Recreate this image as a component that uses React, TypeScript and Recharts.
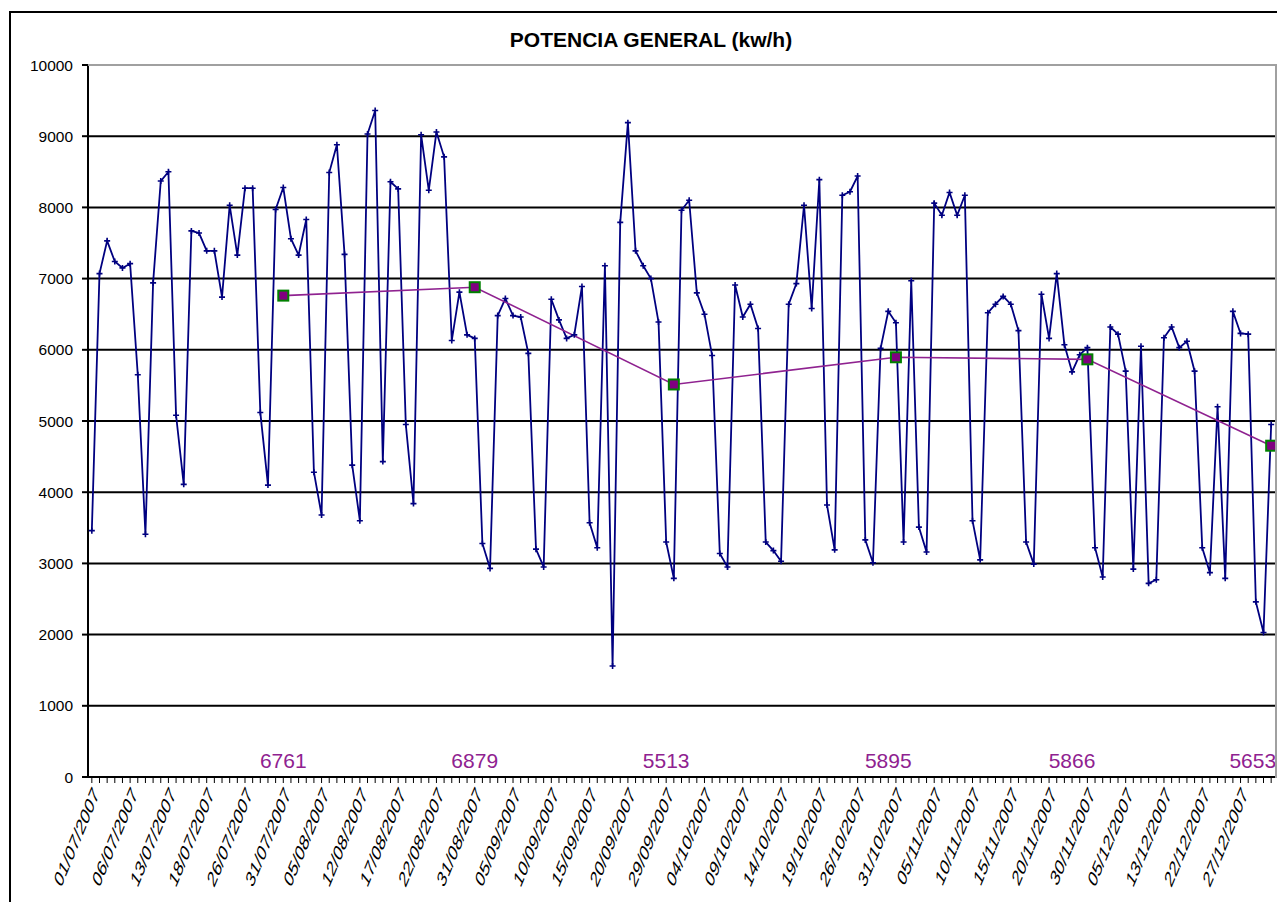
import React from 'react'
import { LineChart, Line, XAxis, YAxis, CartesianGrid, LabelList } from 'recharts'

// dias con lectura (no todos los dias del semestre)
const fechas = [
  '01/07/2007', '02/07/2007', '03/07/2007', '04/07/2007', '05/07/2007',
  '06/07/2007', '07/07/2007', '08/07/2007', '10/07/2007', '12/07/2007',
  '13/07/2007', '14/07/2007', '15/07/2007', '16/07/2007', '17/07/2007',
  '18/07/2007', '19/07/2007', '20/07/2007', '23/07/2007', '24/07/2007',
  '26/07/2007', '27/07/2007', '28/07/2007', '29/07/2007', '30/07/2007',
  '31/07/2007', '01/08/2007', '02/08/2007', '03/08/2007', '04/08/2007',
  '05/08/2007', '06/08/2007', '08/08/2007', '09/08/2007', '11/08/2007',
  '12/08/2007', '13/08/2007', '14/08/2007', '15/08/2007', '16/08/2007',
  '17/08/2007', '18/08/2007', '19/08/2007', '20/08/2007', '21/08/2007',
  '22/08/2007', '23/08/2007', '24/08/2007', '28/08/2007', '30/08/2007',
  '31/08/2007', '01/09/2007', '02/09/2007', '03/09/2007', '04/09/2007',
  '05/09/2007', '06/09/2007', '07/09/2007', '08/09/2007', '09/09/2007',
  '10/09/2007', '11/09/2007', '12/09/2007', '13/09/2007', '14/09/2007',
  '15/09/2007', '16/09/2007', '17/09/2007', '18/09/2007', '19/09/2007',
  '20/09/2007', '21/09/2007', '24/09/2007', '26/09/2007', '28/09/2007',
  '29/09/2007', '30/09/2007', '01/10/2007', '02/10/2007', '03/10/2007',
  '04/10/2007', '05/10/2007', '06/10/2007', '07/10/2007', '08/10/2007',
  '09/10/2007', '10/10/2007', '11/10/2007', '12/10/2007', '13/10/2007',
  '14/10/2007', '15/10/2007', '16/10/2007', '17/10/2007', '18/10/2007',
  '19/10/2007', '20/10/2007', '21/10/2007', '22/10/2007', '24/10/2007',
  '26/10/2007', '27/10/2007', '28/10/2007', '29/10/2007', '30/10/2007',
  '31/10/2007', '01/11/2007', '02/11/2007', '03/11/2007', '04/11/2007',
  '05/11/2007', '06/11/2007', '07/11/2007', '08/11/2007', '09/11/2007',
  '10/11/2007', '11/11/2007', '12/11/2007', '13/11/2007', '14/11/2007',
  '15/11/2007', '16/11/2007', '17/11/2007', '18/11/2007', '19/11/2007',
  '20/11/2007', '21/11/2007', '23/11/2007', '27/11/2007', '29/11/2007',
  '30/11/2007', '01/12/2007', '02/12/2007', '03/12/2007', '04/12/2007',
  '05/12/2007', '06/12/2007', '07/12/2007', '08/12/2007', '09/12/2007',
  '13/12/2007', '17/12/2007', '18/12/2007', '19/12/2007', '20/12/2007',
  '22/12/2007', '23/12/2007', '24/12/2007', '25/12/2007', '26/12/2007',
  '27/12/2007', '28/12/2007', '29/12/2007', '30/12/2007', '31/12/2007',
]

// potencia diaria (kw/h)
const potencia = [
  3460, 7070, 7530, 7240, 7150, 7210, 5650, 3410, 6940, 8370,
  8500, 5080, 4110, 7670, 7640, 7390, 7390, 6740, 8030, 7330,
  8270, 8270, 5120, 4100, 7970, 8280, 7560, 7330, 7830, 4280,
  3680, 8490, 8880, 7340, 4380, 3600, 9030, 9360, 4430, 8360,
  8260, 4950, 3840, 9020, 8240, 9060, 8710, 6130, 6810, 6210,
  6160, 3280, 2930, 6480, 6720, 6480, 6460, 5950, 3200, 2950,
  6710, 6420, 6160, 6210, 6890, 3570, 3220, 7180, 1560, 7790,
  9190, 7390, 7180, 7000, 6390, 3300, 2790, 7960, 8100, 6800,
  6500, 5920, 3140, 2950, 6910, 6460, 6640, 6300, 3300, 3180,
  3030, 6640, 6930, 8030, 6580, 8390, 3820, 3190, 8170, 8220,
  8440, 3330, 3010, 6020, 6540, 6380, 3300, 6970, 3510, 3160,
  8060, 7890, 8210, 7890, 8170, 3600, 3050, 6520, 6640, 6750,
  6640, 6270, 3300, 2990, 6780, 6160, 7070, 6070, 5690, 5930,
  6030, 3220, 2810, 6320, 6220, 5700, 2920, 6050, 2720, 2770,
  6170, 6320, 6030, 6120, 5700, 3220, 2870, 5200, 2790, 6540,
  6230, 6220, 2460, 2030, 4950,
]

// media mensual, marcada el ultimo dia de cada mes
const mediaFechas = ['31/07/2007', '31/08/2007', '30/09/2007', '31/10/2007', '30/11/2007', '31/12/2007']
const mediaValores = [6761, 6879, 5513, 5895, 5866, 4653]

// rotulos de la media sobre el eje
const rotuloFechas = ['31/07/2007', '31/08/2007', '29/09/2007', '30/10/2007', '27/11/2007', '31/12/2007']
const rotuloTextos = ['6761', '6879', '5513', '5895', '5866', '5653']

const yTicks = [0, 1000, 2000, 3000, 4000, 5000, 6000, 7000, 8000, 9000, 10000]

const FONT = '"Liberation Sans", Arial, sans-serif'
const AZUL = '#000080'
const PURPURA = '#8f2290'

const data = fechas.map((fecha, i) => {
  const m = mediaFechas.indexOf(fecha)
  const r = rotuloFechas.indexOf(fecha)
  return {
    fecha,
    potencia: potencia[i],
    media: m >= 0 ? mediaValores[m] : null,
    base: r >= 0 ? 0 : null,
    rotulo: r >= 0 ? rotuloTextos[r] : null,
  }
})

function CruzDot(props: any) {
  const { cx, cy, index } = props
  if (cx == null || cy == null) return <g key={index} />
  return (
    <path
      key={index}
      d={`M${cx - 3},${cy}H${cx + 3}M${cx},${cy - 3}V${cy + 3}`}
      stroke={AZUL}
      strokeWidth={1.6}
      fill="none"
    />
  )
}

function CuadroDot(props: any) {
  const { cx, cy, index } = props
  if (cx == null || cy == null) return <g key={index} />
  return <rect key={index} x={cx - 5} y={cy - 5} width={10} height={10} fill="#800080" stroke="#008000" strokeWidth={2} />
}

// rotulos de fecha inclinados y estirados en vertical, como en la hoja original
function FechaTick(props: any) {
  const { x, y, payload, index } = props
  if (index % 5 !== 0) return <g />
  return (
    <text
      transform={`translate(${x + 4},${y + 3}) scale(1,1.7) rotate(-55)`}
      textAnchor="end"
      dominantBaseline="central"
      fontFamily={FONT}
      fontSize={13.5}
      fill="#000"
    >
      {payload.value}
    </text>
  )
}

function RotuloMedia(props: any) {
  const { x, y, value, index } = props
  if (value == null || x == null) return null
  const ultimo = index === fechas.length - 1
  return (
    <text
      x={ultimo ? x + 5 : x}
      y={y - 9}
      textAnchor={ultimo ? 'end' : 'middle'}
      fontFamily={FONT}
      fontSize={21}
      fill={PURPURA}
    >
      {value}
    </text>
  )
}

export default function App() {
  return (
    <div style={{ position: 'absolute', left: 0, top: 0, width: 1277, height: 902, background: '#fff', overflow: 'hidden' }}>
      <LineChart width={1277} height={902} data={data} margin={{ top: 65, right: 2, left: 0, bottom: 0 }}>
        <CartesianGrid vertical={false} stroke="#000" strokeWidth={2} />
        <XAxis
          dataKey="fecha"
          interval={0}
          height={125}
          padding={{ left: 3.83, right: 3.83 }}
          axisLine={{ stroke: '#000', strokeWidth: 2 }}
          tickLine={{ stroke: '#000', strokeWidth: 1 }}
          tickSize={6}
          tickMargin={4}
          tick={<FechaTick />}
        />
        <YAxis
          domain={[0, 10000]}
          ticks={yTicks}
          interval={0}
          width={88}
          axisLine={{ stroke: '#000', strokeWidth: 2 }}
          tickLine={{ stroke: '#000', strokeWidth: 2 }}
          tickSize={6}
          tickMargin={9}
          tick={{ fontFamily: FONT, fontSize: 15.5, fill: '#000' }}
        />
        <Line
          type="linear"
          dataKey="potencia"
          stroke={AZUL}
          strokeWidth={1.8}
          dot={CruzDot}
          activeDot={false}
          isAnimationActive={false}
        />
        <Line
          type="linear"
          dataKey="media"
          stroke={PURPURA}
          strokeWidth={1.6}
          connectNulls
          dot={CuadroDot}
          activeDot={false}
          isAnimationActive={false}
        />
        <Line
          type="linear"
          dataKey="base"
          stroke="none"
          dot={false}
          activeDot={false}
          isAnimationActive={false}
        >
          <LabelList dataKey="rotulo" content={RotuloMedia} />
        </Line>
      </LineChart>
      {/* borde gris del area de trazado */}
      <div style={{ position: 'absolute', left: 88, top: 64, width: 1187, height: 712, borderTop: '2px solid #a0a0a0', borderRight: '2px solid #a0a0a0', pointerEvents: 'none' }} />
      {/* marco del grafico */}
      <div style={{ position: 'absolute', left: 9, top: 11, width: 1280, height: 900, borderTop: '2px solid #000', borderLeft: '2px solid #000', pointerEvents: 'none' }} />
      <div style={{ position: 'absolute', left: 351, top: 28, width: 600, textAlign: 'center', fontFamily: FONT, fontWeight: 'bold', fontSize: 21, color: '#000' }}>
        POTENCIA GENERAL (kw/h)
      </div>
    </div>
  )
}
